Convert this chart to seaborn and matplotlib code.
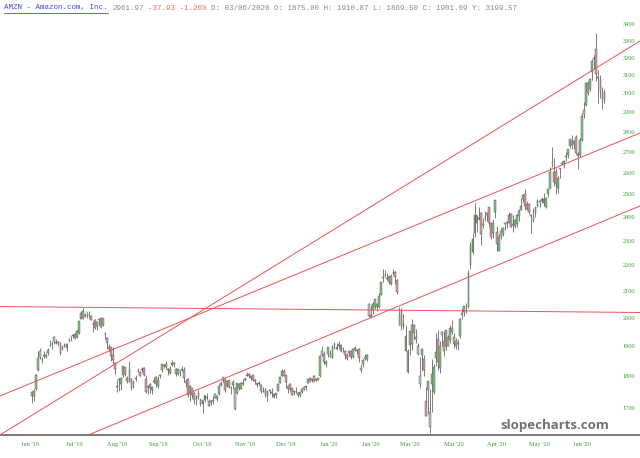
import numpy as np
import pandas as pd
import seaborn as sns
import matplotlib.pyplot as plt
from matplotlib.lines import Line2D
from matplotlib.ticker import NullLocator

# AMZN daily candles, 5 Jun 2019 -> 17 Jul 2020 (one entry per trading day)
opens = [
    1749.6, 1737.7, 1758.6, 1822.0, 1883.3, 1854.0, 1866.7, 1864.0, 1876.5, 1901.4,
    1907.8, 1933.3, 1916.1, 1912.7, 1911.8, 1892.5, 1902.0, 1909.1,
    1923.0, 1934.3, 1935.9, 1928.2, 1934.1, 1947.8, 1996.5, 2025.6, 2008.3, 2021.4,
    2010.6, 2007.1, 1980.0, 1991.2, 1971.1, 1996.0, 1969.3, 2001.0, 1942.0, 1930.0,
    1891.1, 1898.1,
    1871.7, 1845.1, 1770.2, 1792.2, 1774.0, 1806.0, 1829.0, 1796.0, 1783.0, 1793.0,
    1782.0, 1792.9, 1818.1, 1814.5, 1819.4, 1828.0, 1793.0, 1766.9, 1775.7, 1755.0,
    1783.0, 1797.5,
    1770.0, 1805.0, 1822.0, 1838.2, 1841.5, 1822.8, 1812.1, 1837.6, 1842.5, 1824.0,
    1807.1, 1817.0, 1821.0, 1821.7, 1777.0, 1790.6, 1747.4, 1762.8, 1748.0, 1727.0,
    1746.0, 1727.7, 1713.0, 1726.0, 1731.6, 1722.5, 1719.6, 1725.2, 1742.9, 1728.9,
    1742.1, 1773.3, 1796.5, 1787.8, 1769.7, 1788.2, 1761.3, 1771.1, 1697.6, 1748.1,
    1774.8, 1760.2, 1776.0,
    1788.0, 1801.0, 1809.2, 1801.0, 1803.8, 1787.9, 1778.0, 1774.7, 1773.4, 1751.4,
    1760.1, 1738.3, 1757.0, 1749.1, 1743.0, 1739.0, 1753.3, 1779.9, 1801.0, 1817.8,
    1804.4, 1760.0, 1774.0, 1763.5, 1751.2, 1750.7, 1747.4, 1741.7, 1750.0, 1765.0,
    1767.0, 1778.0, 1795.0, 1788.3, 1799.6, 1788.3, 1793.8, 1801.0, 1882.9, 1874.0,
    1842.0,
    1875.0, 1864.5, 1860.0, 1904.5, 1898.0, 1909.9, 1905.4, 1891.3, 1885.9, 1872.3,
    1883.0, 1885.9, 1865.0, 1896.1, 1885.1, 1891.4, 1820.0, 1840.5, 1864.0, 1858.0,
    2051.5,
    2010.6, 2029.9, 2071.0, 2041.0, 2041.0, 2085.0, 2150.9, 2163.2, 2145.0, 2155.7,
    2125.0, 2167.8, 2173.1, 2142.2, 1975.2, 2026.4, 1970.3, 1934.4, 1814.6,
    1906.5, 1975.4, 1946.6, 1933.0, 1875.0, 1773.9, 1870.9, 1857.9, 1722.0, 1755.0,
    1641.5, 1775.5, 1750.0, 1860.0, 1926.3, 1827.8, 1951.5, 1920.1, 1902.0, 1930.9,
    1922.8, 1964.4,
    1933.0, 1901.6, 1911.2, 1936.0, 2017.1, 2021.6, 2044.3, 2040.0, 2200.5, 2254.4,
    2331.6, 2407.0, 2390.0, 2416.6, 2369.7, 2400.0, 2417.0, 2443.2, 2372.1, 2330.0,
    2419.8,
    2336.8, 2256.4, 2340.0, 2329.4, 2374.8, 2372.1, 2375.0, 2411.9, 2366.8, 2361.0,
    2368.5, 2404.4, 2429.8, 2477.9, 2500.0, 2455.0, 2458.0, 2405.0, 2384.3, 2415.9,
    2448.0, 2467.0, 2468.0, 2477.4, 2444.5, 2500.2, 2529.4, 2645.0, 2603.5, 2601.2,
    2526.6, 2620.0, 2647.5, 2647.0, 2679.1, 2684.5, 2728.0, 2752.0, 2739.6, 2775.1,
    2690.0, 2685.1,
    2758.0, 2912.0, 2935.0, 3058.6, 3022.6, 3116.0, 3191.8, 3251.1, 3089.0, 3080.1,
    2971.1, 3009.0,
]
highs = [
    1752.0, 1760.0, 1806.3, 1884.9, 1893.7, 1865.0, 1883.1, 1876.0, 1895.7, 1921.7,
    1919.6, 1935.2, 1926.0, 1916.9, 1916.4, 1903.8, 1911.2, 1912.9,
    1929.8, 1935.2, 1941.6, 1945.9, 1956.0, 1990.0, 2024.9, 2035.8, 2017.0, 2022.9,
    2026.3, 2012.0, 1987.5, 1996.0, 1989.0, 1997.8, 2001.3, 2001.2, 1950.9, 1932.7,
    1909.9, 1899.6,
    1897.9, 1846.4, 1788.7, 1793.8, 1798.9, 1834.3, 1831.1, 1801.0, 1849.9, 1795.7,
    1788.0, 1802.9, 1826.0, 1816.8, 1829.6, 1829.4, 1804.9, 1770.0, 1779.4, 1767.9,
    1798.6, 1799.7,
    1800.8, 1807.6, 1842.0, 1840.7, 1850.0, 1825.8, 1833.4, 1853.7, 1846.9, 1825.7,
    1824.0, 1822.1, 1832.6, 1830.6, 1792.7, 1795.7, 1773.0, 1763.4, 1749.1, 1737.5,
    1755.6, 1728.9, 1725.0, 1740.6, 1747.8, 1727.0, 1724.9, 1738.3, 1745.5, 1741.9,
    1776.5, 1786.2, 1798.9, 1794.0, 1785.9, 1789.8, 1770.1, 1788.3, 1764.2, 1778.7,
    1777.0, 1782.4, 1792.0,
    1797.5, 1815.1, 1810.3, 1802.5, 1805.9, 1789.9, 1780.0, 1786.2, 1775.0, 1766.6,
    1761.7, 1753.7, 1760.7, 1762.5, 1746.9, 1746.4, 1777.4, 1797.0, 1824.7, 1824.7,
    1805.6, 1772.9, 1780.0, 1763.5, 1754.4, 1766.9, 1750.7, 1750.0, 1764.0, 1769.0,
    1769.5, 1792.0, 1798.2, 1792.0, 1803.0, 1793.0, 1795.6, 1870.5, 1901.4, 1884.0,
    1853.3,
    1898.0, 1886.2, 1903.7, 1913.9, 1910.0, 1917.8, 1906.9, 1898.0, 1887.1, 1878.9,
    1885.6, 1886.6, 1894.3, 1902.5, 1890.0, 1895.0, 1841.0, 1858.1, 1874.8, 1872.9,
    2055.7,
    2048.5, 2059.8, 2071.0, 2056.3, 2092.0, 2135.6, 2186.0, 2180.3, 2170.3, 2159.0,
    2166.1, 2185.1, 2176.8, 2144.6, 2040.0, 2034.6, 2014.7, 1975.0, 1889.8,
    1954.5, 1996.3, 1978.0, 1960.7, 1910.9, 1862.8, 1894.3, 1871.3, 1765.0, 1786.3,
    1759.5, 1857.8, 1841.7, 1945.0, 1957.5, 1919.4, 1955.0, 1952.7, 1956.5, 1939.8,
    1973.6, 1993.0,
    1945.0, 1927.5, 1926.3, 1998.5, 2035.7, 2044.3, 2053.0, 2180.0, 2292.0, 2333.4,
    2461.0, 2407.0, 2445.0, 2420.0, 2394.0, 2424.2, 2420.4, 2444.9, 2373.5, 2391.9,
    2475.0,
    2362.4, 2327.0, 2351.0, 2357.5, 2376.0, 2382.0, 2419.7, 2419.0, 2407.7, 2391.4,
    2411.0, 2433.0, 2485.0, 2500.0, 2522.9, 2469.9, 2462.0, 2413.6, 2437.0, 2442.4,
    2476.9, 2473.5, 2488.0, 2507.5, 2488.7, 2530.0, 2626.4, 2722.4, 2671.4, 2621.5,
    2584.0, 2623.4, 2655.0, 2659.6, 2697.3, 2715.0, 2763.0, 2783.1, 2756.2, 2782.6,
    2696.4, 2769.6,
    2895.0, 2955.6, 3059.9, 3069.6, 3084.0, 3193.9, 3215.0, 3344.3, 3127.4, 3098.4,
    3032.0, 3024.0,
]
lows = [
    1715.3, 1723.0, 1755.3, 1818.0, 1858.0, 1844.4, 1862.2, 1859.0, 1871.5, 1899.8,
    1892.5, 1906.6, 1907.7, 1901.3, 1872.4, 1887.3, 1898.0, 1884.0,
    1914.7, 1919.4, 1930.5, 1925.3, 1928.3, 1943.5, 1995.4, 1995.3, 2003.9, 2001.6,
    2001.2, 1992.0, 1951.6, 1962.2, 1958.3, 1973.1, 1965.9, 1972.7, 1924.5, 1890.5,
    1883.5, 1849.4,
    1844.0, 1808.0, 1748.8, 1753.4, 1757.0, 1798.1, 1802.2, 1777.0, 1780.8, 1757.2,
    1762.0, 1784.6, 1812.6, 1799.9, 1815.0, 1800.1, 1745.2, 1743.5, 1746.7, 1744.1,
    1777.3, 1764.6,
    1764.0, 1796.2, 1815.6, 1826.4, 1824.6, 1805.3, 1809.1, 1834.3, 1831.7, 1800.2,
    1804.1, 1802.5, 1817.9, 1780.9, 1767.3, 1735.6, 1723.0, 1731.0, 1713.8, 1709.2,
    1728.4, 1705.0, 1685.1, 1719.2, 1723.7, 1705.0, 1708.0, 1713.8, 1729.9, 1722.0,
    1740.6, 1770.5, 1782.0, 1749.2, 1765.0, 1762.0, 1742.0, 1760.3, 1695.0, 1742.5,
    1755.8, 1759.1, 1771.5,
    1785.2, 1801.0, 1794.0, 1788.6, 1783.5, 1774.0, 1767.1, 1771.9, 1747.3, 1749.6,
    1732.9, 1722.7, 1743.0, 1734.0, 1730.4, 1731.0, 1753.2, 1778.4, 1800.3, 1800.3,
    1762.7, 1747.2, 1752.7, 1740.0, 1740.1, 1745.6, 1735.0, 1735.7, 1745.4, 1755.0,
    1757.1, 1777.4, 1782.4, 1783.0, 1782.5, 1784.5, 1787.6, 1799.5, 1866.0, 1840.6,
    1832.2,
    1864.2, 1864.5, 1860.0, 1892.0, 1886.4, 1895.8, 1880.0, 1880.8, 1858.6, 1855.1,
    1866.0, 1857.3, 1860.0, 1883.3, 1872.8, 1847.4, 1815.3, 1830.0, 1855.0, 1850.6,
    2002.3,
    2000.3, 2015.4, 2032.0, 2024.8, 2038.1, 2085.0, 2136.0, 2155.3, 2142.0, 2125.9,
    2124.1, 2161.1, 2127.5, 2088.0, 1974.1, 1958.4, 1960.5, 1882.8, 1811.1,
    1870.0, 1888.1, 1922.0, 1910.0, 1869.5, 1761.3, 1818.2, 1801.5, 1675.0, 1680.6,
    1626.0, 1689.0, 1745.0, 1832.7, 1820.7, 1812.0, 1900.3, 1866.9, 1889.3, 1899.9,
    1912.3, 1944.0,
    1893.0, 1890.0, 1889.2, 1930.0, 1997.6, 2005.4, 2017.7, 2038.0, 2186.2, 2245.0,
    2316.0, 2337.4, 2386.1, 2279.7, 2352.0, 2382.1, 2382.0, 2363.0, 2306.0, 2310.0,
    2396.0,
    2258.2, 2256.4, 2307.1, 2320.0, 2343.6, 2354.7, 2372.5, 2355.0, 2337.8, 2353.2,
    2356.4, 2384.0, 2429.0, 2467.3, 2432.1, 2430.1, 2414.1, 2330.0, 2378.2, 2398.2,
    2444.2, 2445.3, 2461.2, 2450.0, 2437.1, 2487.3, 2525.0, 2626.4, 2536.2, 2503.4,
    2508.0, 2576.0, 2637.3, 2621.7, 2652.8, 2669.0, 2718.0, 2713.0, 2712.1, 2688.0,
    2617.4, 2675.0,
    2754.0, 2871.1, 2930.0, 2990.0, 3012.4, 3074.0, 3135.7, 3068.4, 2950.0, 2973.2,
    2918.2, 2948.5,
]
closes = [
    1738.5, 1754.4, 1804.0, 1860.6, 1863.7, 1855.3, 1870.3, 1869.7, 1886.0, 1901.4,
    1908.8, 1918.2, 1911.3, 1913.9, 1878.3, 1897.8, 1904.3, 1893.6,
    1922.2, 1934.3, 1939.0, 1942.9, 1952.3, 1988.3, 2017.4, 2001.1, 2011.0, 2021.0,
    2009.9, 1992.0, 1977.9, 1964.5, 1985.6, 1994.5, 2000.8, 1973.8, 1943.1, 1912.5,
    1898.5, 1866.8,
    1855.3, 1823.2, 1765.1, 1787.8, 1793.4, 1832.9, 1807.6, 1784.9, 1824.3, 1763.0,
    1776.1, 1792.6, 1816.1, 1801.4, 1823.5, 1804.7, 1749.6, 1768.9, 1761.8, 1764.3,
    1786.4, 1776.3,
    1789.8, 1800.6, 1840.7, 1833.5, 1831.4, 1820.6, 1823.0, 1843.6, 1839.3, 1807.8,
    1822.6, 1817.5, 1821.5, 1794.2, 1785.3, 1741.6, 1768.3, 1739.8, 1725.5, 1735.9,
    1735.7, 1713.2, 1724.4, 1739.7, 1732.7, 1705.5, 1722.0, 1720.3, 1731.9, 1736.4,
    1767.4, 1777.4, 1787.5, 1757.5, 1785.7, 1765.7, 1762.2, 1780.8, 1761.3, 1777.1,
    1762.7, 1780.0, 1776.7,
    1791.4, 1804.7, 1801.7, 1795.8, 1788.2, 1785.9, 1771.7, 1778.0, 1753.1, 1754.6,
    1739.5, 1752.5, 1752.8, 1745.5, 1734.7, 1745.7, 1773.8, 1797.0, 1818.5, 1800.8,
    1781.6, 1770.0, 1760.7, 1740.5, 1751.6, 1749.5, 1739.2, 1748.7, 1760.3, 1760.9,
    1769.2, 1790.7, 1784.0, 1792.3, 1786.5, 1793.0, 1789.2, 1868.8, 1869.8, 1846.9,
    1847.8,
    1898.0, 1875.0, 1902.9, 1906.9, 1892.0, 1901.1, 1883.2, 1891.3, 1869.4, 1862.0,
    1877.9, 1864.7, 1892.0, 1887.5, 1884.6, 1861.6, 1828.3, 1853.3, 1858.0, 1870.7,
    2008.7,
    2004.2, 2049.7, 2039.9, 2050.2, 2079.3, 2133.9, 2150.8, 2160.0, 2149.9, 2134.9,
    2155.7, 2170.2, 2153.1, 2096.0, 2009.3, 1972.7, 1979.6, 1884.3, 1883.8,
    1954.0, 1909.0, 1975.8, 1924.0, 1901.1, 1800.6, 1891.8, 1820.9, 1676.6, 1785.0,
    1689.2, 1807.8, 1830.0, 1880.9, 1846.1, 1902.8, 1940.1, 1885.8, 1955.5, 1900.1,
    1963.9, 1949.7,
    1907.7, 1918.8, 1906.6, 1997.6, 2011.6, 2043.0, 2042.8, 2168.9, 2283.3, 2307.7,
    2408.2, 2375.0, 2393.6, 2328.1, 2363.5, 2399.5, 2410.2, 2376.0, 2314.1, 2372.7,
    2474.0,
    2286.0, 2316.0, 2317.8, 2351.3, 2367.6, 2379.6, 2409.0, 2357.0, 2367.9, 2388.9,
    2409.8, 2426.3, 2449.3, 2497.9, 2446.7, 2436.9, 2421.9, 2410.4, 2401.1, 2442.4,
    2471.0, 2472.4, 2478.4, 2460.6, 2483.0, 2524.1, 2600.9, 2647.5, 2558.0, 2545.0,
    2572.7, 2615.3, 2641.0, 2654.0, 2675.0, 2713.8, 2764.4, 2734.4, 2754.6, 2692.9,
    2680.4, 2758.8,
    2878.7, 2890.3, 3057.0, 3000.1, 3081.1, 3182.6, 3200.0, 3104.0, 3084.0, 3008.9,
    2999.9, 2962.0,
]

month_ticks = [-1, 21, 42, 62, 84, 105, 125, 146, 167, 186, 208, 229, 250, 271]
month_labels = ["Jun '19", "Jul '19", "Aug '19", "Sep '19", "Oct '19", "Nov '19",
                "Dec '19", "Jan '20", "Jan '20", "Mar '20", "Mar '20", "Apr '20",
                "May '20", "Jun '20"]
price_ticks = list(range(1700, 3500, 100))

# drawn trendlines: start (bar index, price) -> end (bar index, price)
trend_x0 = [-16, -16, 25, -16]
trend_p0 = [1618.5, 1736.8, 1612.6, 2041.7]
trend_x1 = [300, 300, 300, 300]
trend_p1 = [3300.8, 2794.8, 2450.0, 2019.9]

df = pd.DataFrame({"open": opens, "high": highs, "low": lows, "close": closes})
df["bar"] = np.arange(len(df))
prev = df["close"].shift(1).fillna(df["open"])
up_candle = df["close"] >= df["open"]
up_day = df["close"] >= prev
df["color"] = np.where(up_candle & up_day, "#7dc67d",
                       np.where(~up_candle & ~up_day, "#d99aa2", "#c4c2c2"))

sns.set_theme(style="white")
plt.rcParams["font.family"] = ["DejaVu Sans"]

fig = plt.figure(figsize=(6.4, 4.58), dpi=100)
ax = fig.add_axes([0, 23 / 458, 1, 435 / 458])

# wicks and bodies
ax.vlines(df["bar"], df["low"], df["high"], color="#4a4a4a", lw=0.5, zorder=2)
body_low = df[["open", "close"]].min(axis=1)
body_h = (df["close"] - df["open"]).abs().clip(lower=1.5)
ax.bar(df["bar"], body_h, bottom=body_low, width=0.9, color=df["color"],
       edgecolor="#505050", linewidth=0.3, zorder=2)

for x0, p0, x1, p1 in zip(trend_x0, trend_p0, trend_x1, trend_p1):
    sns.lineplot(x=[x0, x1], y=[p0, p1], ax=ax, color="#e8545a", lw=0.7,
                 zorder=3, legend=False)

ax.set_yscale("log")
ax.set_ylim(1619.2, 3550.5)
ax.set_xlim(-15.76, 299.5)

ax.set_yticks(price_ticks, [str(p) for p in price_ticks])
ax.yaxis.set_minor_locator(NullLocator())
ax.yaxis.tick_right()
ax.tick_params(axis="y", length=0, pad=-12.5, labelsize=4.6, labelcolor="#3f9a3f")
ax.set_xticks(month_ticks, month_labels)
ax.tick_params(axis="x", length=0, pad=5, labelsize=4.6, labelcolor="#3f9a3f")
for lbl in ax.get_xticklabels() + ax.get_yticklabels():
    lbl.set_fontfamily("Liberation Serif")

ax.set_xlabel("")
ax.set_ylabel("")
ax.grid(False)
for side in ["top", "left", "right"]:
    ax.spines[side].set_visible(False)
ax.spines["bottom"].set_color("#7a7a7a")
ax.spines["bottom"].set_linewidth(1.4)

# header line (monospace, coloured pieces)
cw = 4.5
hy = 1 - 8 / 458
mono = dict(family="Liberation Mono", fontsize=5.4, va="center", ha="left")
fig.text(4 / 640, hy, "AMZN - Amazon.com, Inc.", color="#3d52b8", **mono)
fig.text((4 + 24 * cw) / 640, hy, "2961.97", color="#8a8a8a", **mono)
fig.text((4 + 32 * cw) / 640, hy, "-37.93 -1.26%", color="#e06a6a", **mono)
fig.text((4 + 46 * cw) / 640, hy,
         "D: 03/06/2020 O: 1875.00 H: 1910.87 L: 1869.50 C: 1901.09 Y: 3199.57",
         color="#8a8a8a", **mono)
fig.add_artist(Line2D([4 / 640, (4 + 23 * cw) / 640], [1 - 12.5 / 458] * 2,
                      color="#3d52b8", lw=0.6))

fig.text(555 / 640, 1 - 426 / 458, "slopecharts.com", ha="center", va="center",
         fontsize=9.5, fontweight="bold", color="#727272", family="Open Sans")

fig.savefig("out.png", dpi=100)
